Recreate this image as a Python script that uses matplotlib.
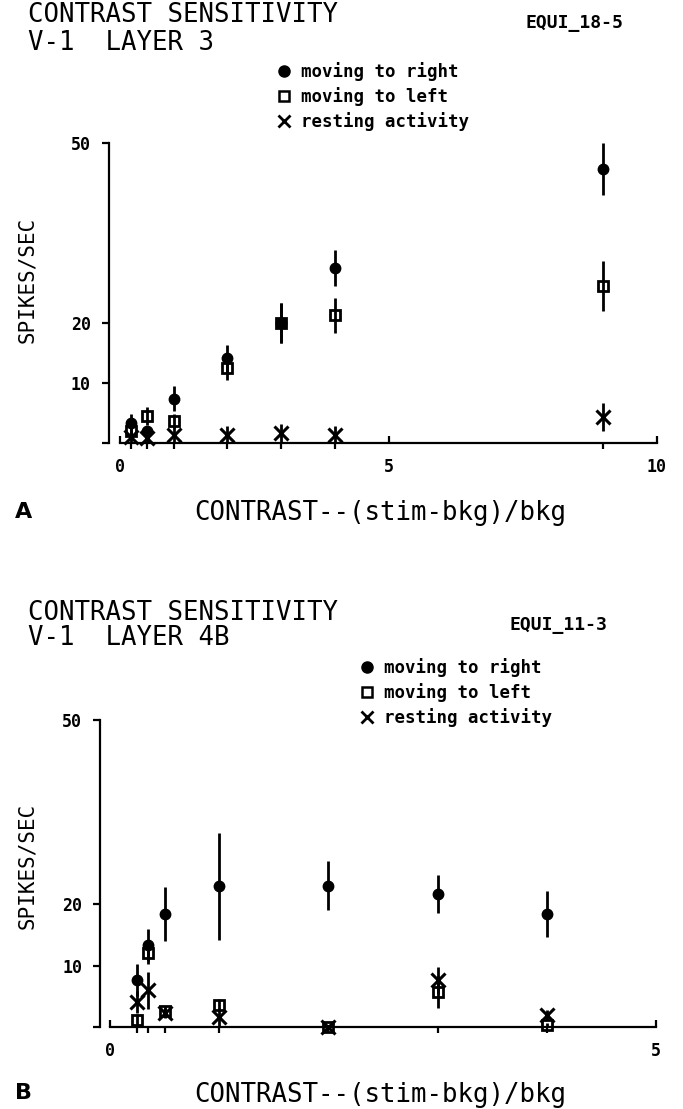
import matplotlib
matplotlib.use("Agg")
import matplotlib.pyplot as plt
from matplotlib.lines import Line2D

# ---------------- data ----------------
# Panel A (V-1 layer 3, EQUI_18-5)
x_a = [0.2, 0.5, 1, 2, 3, 4, 9]
right_a = [3.3, 2.0, 7.4, 14.1, 20.0, 29.1, 45.7]
right_err_a = [1.6, 0.8, 2.1, 2.2, 3.4, 3.0, 4.3]
left_a = [2.0, 4.5, 3.7, 12.5, 20.0, 21.3, 26.2]
left_err_a = [1.0, 1.5, 1.2, 2.0, 3.4, 2.9, 4.2]
rest_a = [1.0, 0.8, 1.4, 1.4, 1.7, 1.4, 4.3]
rest_err_a = [1.0, 0.8, 1.4, 1.4, 1.5, 1.4, 2.3]

# Panel B (V-1 layer 4B, EQUI_11-3)
x_b = [0.25, 0.35, 0.5, 1, 2, 3, 4]
right_b = [7.6, 13.3, 18.4, 22.9, 23.0, 21.6, 18.4]
right_err_b = [2.6, 2.6, 4.4, 8.7, 4.0, 3.1, 3.7]
left_b = [1.1, 12.0, 2.6, 3.6, 0.0, 5.7, 0.3]
left_err_b = [1.0, 1.7, 0.8, 1.0, 0.3, 2.6, 0.3]
rest_b = [4.0, 6.0, 2.3, 1.6, 0.0, 7.6, 1.9]
rest_err_b = [1.8, 3.0, 0.8, 1.5, 0.3, 2.2, 0.8]

series_labels = ["moving to right", "moving to left", "resting activity"]
y_ticks = [0, 10, 20, 50]
y_ticklabels = ["", "10", "20", "50"]
xticks_a = [0, 5, 10]
xticks_b = [0, 5]

# ---------------- layout ----------------
W, H = 683, 1109
fig = plt.figure(figsize=(W / 100, H / 100), dpi=100)
PX = 72 / 100  # points per pixel

MONO = "DejaVu Sans Mono"


def fx(px):
    return px / W


def fy(py):
    return 1 - py / H


def panel(rect, xs, r, re, l, le, s, se, xmax, xticks, left_off):
    ax = fig.add_axes(rect)
    ekw = dict(ls="none", elinewidth=2.0, capsize=0, ecolor="black", clip_on=False)
    ax.errorbar(xs, r, yerr=re, marker="o", ms=7.5, mfc="black", mec="black", zorder=3, **ekw)
    ax.errorbar(xs, l, yerr=le, marker="s", ms=7, mfc="none", mec="black", mew=2.0, zorder=4, **ekw)
    ax.errorbar(xs, s, yerr=se, marker="x", ms=10, mec="black", mew=2.2, zorder=5, **ekw)
    ax.set_xlim(0, xmax)
    ax.set_ylim(0, 50)
    for sp in ("top", "right"):
        ax.spines[sp].set_visible(False)
    ax.spines["left"].set_position(("outward", left_off * PX))
    ax.spines["left"].set_linewidth(1.6)
    ax.spines["bottom"].set_linewidth(1.6)
    ax.set_xticks(xticks)
    ax.set_xticklabels([str(t) for t in xticks], fontfamily=MONO, fontweight="bold", fontsize=12)
    ax.set_xticks(xs, minor=True)
    ax.tick_params(axis="x", which="major", direction="in", length=7 * PX, width=1.6, pad=15 * PX)
    ax.tick_params(axis="x", which="minor", direction="out", length=6 * PX, width=1.6)
    ax.set_yticks(y_ticks)
    ax.set_yticklabels(y_ticklabels, fontfamily=MONO, fontweight="bold", fontsize=12)
    ax.tick_params(axis="y", which="major", direction="out", length=7 * PX, width=1.6, pad=11 * PX)
    ax.tick_params(axis="y", which="minor", left=False)
    return ax


ax_a = panel([fx(120), fy(443), fx(657 - 120), (443 - 143) / H],
             x_a, right_a, right_err_a, left_a, left_err_a, rest_a, rest_err_a,
             10, xticks_a, 11)
ax_b = panel([fx(110), fy(1027), fx(656 - 110), (1027 - 720) / H],
             x_b, right_b, right_err_b, left_b, left_err_b, rest_b, rest_err_b,
             5, xticks_b, 10)

# legends
handles = [
    Line2D([], [], ls="none", marker="o", ms=8, mfc="black", mec="black"),
    Line2D([], [], ls="none", marker="s", ms=6.5, mfc="none", mec="black", mew=1.8),
    Line2D([], [], ls="none", marker="x", ms=9, mec="black", mew=2.0),
]
leg_font = dict(family=MONO, weight="bold", size=12.5)


def add_legend(ax, x_px, y_top_px):
    leg = ax.legend(handles, series_labels, loc="upper left",
                    bbox_to_anchor=(fx(x_px), fy(y_top_px)), bbox_transform=fig.transFigure,
                    frameon=False, prop=leg_font, handlelength=1.0, handletextpad=0.5,
                    labelspacing=0.35, borderpad=0, borderaxespad=0)
    return leg


add_legend(ax_a, 275, 62)
add_legend(ax_b, 358, 658)

# titles and labels
title_font = dict(family=MONO, size=18.5)
fig.text(fx(28), fy(15), "CONTRAST SENSITIVITY", va="center", ha="left", **title_font)
fig.text(fx(28), fy(43), "V-1  LAYER 3", va="center", ha="left", **title_font)
fig.text(fx(623), fy(23), "EQUI_18-5", va="center", ha="right", family=MONO, weight="bold", size=13)

fig.text(fx(28), fy(613), "CONTRAST SENSITIVITY", va="center", ha="left", **title_font)
fig.text(fx(28), fy(638), "V-1  LAYER 4B", va="center", ha="left", **title_font)
fig.text(fx(607), fy(625), "EQUI_11-3", va="center", ha="right", family=MONO, weight="bold", size=13)

ylab_font = dict(family=MONO, size=15)
fig.text(fx(27), fy(280), "SPIKES/SEC", rotation=90, va="center", ha="center", **ylab_font)
fig.text(fx(27), fy(866), "SPIKES/SEC", rotation=90, va="center", ha="center", **ylab_font)

xlab_font = dict(family=MONO, size=18.5)
fig.text(fx(380), fy(513), "CONTRAST--(stim-bkg)/bkg", va="center", ha="center", **xlab_font)
fig.text(fx(380), fy(1095), "CONTRAST--(stim-bkg)/bkg", va="center", ha="center", **xlab_font)

fig.text(fx(15), fy(512), "A", va="center", ha="left", family="DejaVu Sans", weight="bold", size=16)
fig.text(fx(15), fy(1093), "B", va="center", ha="left", family="DejaVu Sans", weight="bold", size=16)

fig.savefig("out.png", dpi=100, facecolor="white")
